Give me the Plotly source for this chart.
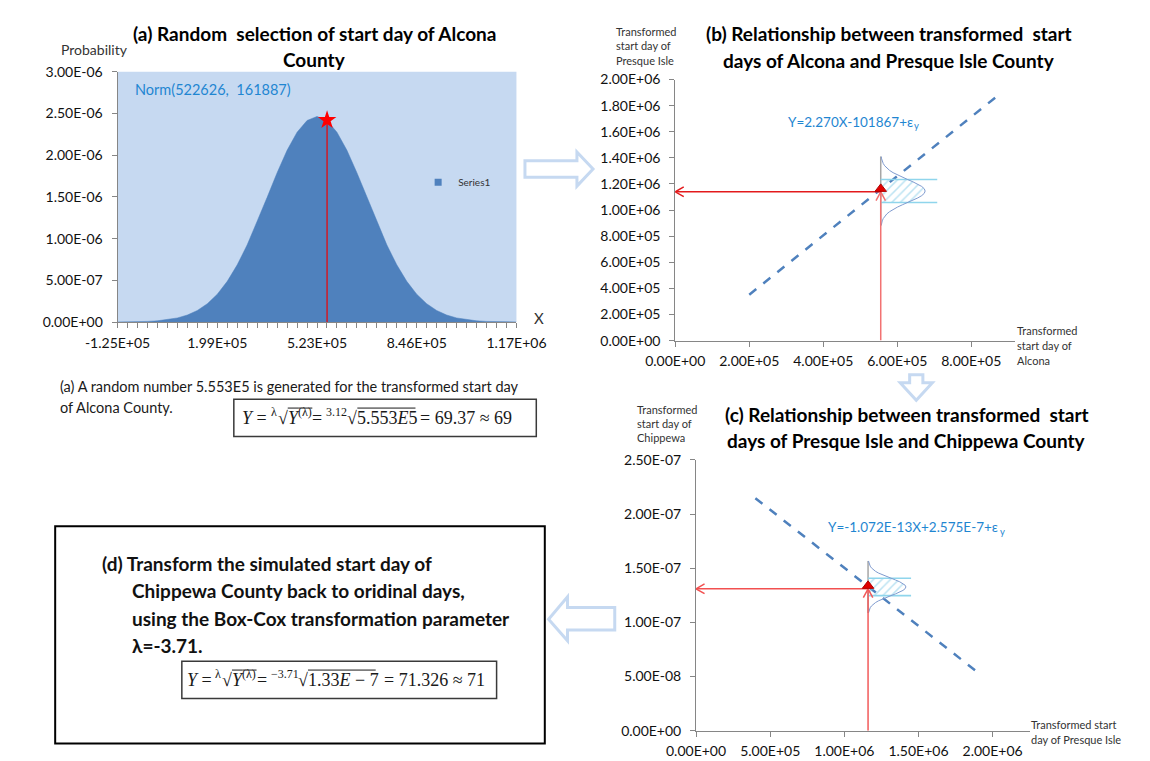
import plotly.graph_objects as go

W, H = 1150, 761

# ---------------- data ----------------
# (a) normal density of transformed Alcona start day, Norm(522626, 161887)
a_x = [-124922, -92545, -60167, -27790, 4588, 36965, 69343, 101720, 134097, 166475,
       198852, 231229, 263607, 295984, 328362, 360739, 393116, 425494, 457871, 490249,
       522626, 555003, 587381, 619758, 652136, 684513, 716890, 749268, 781645, 814023,
       846400, 878777, 911155, 943532, 975910, 1008287, 1040664, 1073042, 1105419, 1137797,
       1170174]
a_y = [0.0008e-6, 0.0018e-6, 0.0038e-6, 0.0076e-6, 0.0147e-6, 0.0274e-6, 0.0489e-6, 0.0839e-6,
       0.1383e-6, 0.2191e-6, 0.3335e-6, 0.4877e-6, 0.6852e-6, 0.9249e-6, 1.1995e-6, 1.4947e-6,
       1.7895e-6, 2.0584e-6, 2.2748e-6, 2.4155e-6, 2.4643e-6, 2.4155e-6, 2.2748e-6, 2.0584e-6,
       1.7895e-6, 1.4947e-6, 1.1995e-6, 0.9249e-6, 0.6852e-6, 0.4877e-6, 0.3335e-6, 0.2191e-6,
       0.1383e-6, 0.0839e-6, 0.0489e-6, 0.0274e-6, 0.0147e-6, 0.0076e-6, 0.0038e-6, 0.0018e-6,
       0.0008e-6]
a_xtick_labels = ["-1.25E+05", "1.99E+05", "5.23E+05", "8.46E+05", "1.17E+06"]
a_yticks = [0, 0.5e-6, 1.0e-6, 1.5e-6, 2.0e-6, 2.5e-6, 3.0e-6]
a_ytick_labels = ["0.00E+00", "5.00E-07", "1.00E-06", "1.50E-06", "2.00E-06", "2.50E-06", "3.00E-06"]
alcona_sim = 555300
alcona_sim_density = 2.42e-6

# (b) Alcona -> Presque Isle
b_line_x = [200000, 870000]
b_line_y = [352133, 1873033]
b_point_x = 555300
b_point_y = 1140000
b_xticks = [0, 200000, 400000, 600000, 800000]
b_xtick_labels = ["0.00E+00", "2.00E+05", "4.00E+05", "6.00E+05", "8.00E+05"]
b_yticks = [0, 200000, 400000, 600000, 800000, 1000000, 1200000, 1400000, 1600000, 1800000, 2000000]
b_ytick_labels = ["0.00E+00", "2.00E+05", "4.00E+05", "6.00E+05", "8.00E+05", "1.00E+06",
                  "1.20E+06", "1.40E+06", "1.60E+06", "1.80E+06", "2.00E+06"]

# (c) Presque Isle -> Chippewa
c_line_x = [400000, 1900000]
c_line_y = [2.1462e-7, 0.5382e-7]
c_point_x = 1160000
c_point_y = 1.31e-7
c_xticks = [0, 500000, 1000000, 1500000, 2000000]
c_xtick_labels = ["0.00E+00", "5.00E+05", "1.00E+06", "1.50E+06", "2.00E+06"]
c_yticks = [0, 0.5e-7, 1.0e-7, 1.5e-7, 2.0e-7, 2.5e-7]
c_ytick_labels = ["0.00E+00", "5.00E-08", "1.00E-07", "1.50E-07", "2.00E-07", "2.50E-07"]

# ---------------- layout geometry (pixels) ----------------
A_X, A_Y = (81, 503), (56, 312)
B_X, B_Y = (671, 1030), (64, 331)
C_X, C_Y = (693, 1046), (453, 730)
A_RX, A_RY = [a_x[0], a_x[-1]], [0, 3e-6]
B_RX, B_RY = [0, 917000], [0, 2000000]
C_RX, C_RY = [0, 2250000], [0, 2.5e-7]


def px(x):
    return x / W


def py(y):
    return 1 - y / H


FONT = "Lato"
TICKC = "#111111"
BLUE = "#4f81bd"
EQBLUE = "#1f86d1"

fig = go.Figure()

# ---------------- panel (a) ----------------
fig.add_trace(go.Scatter(x=a_x, y=a_y, mode="lines", fill="tozeroy", fillcolor=BLUE,
                         line=dict(color=BLUE, width=0.5), name="Series1", showlegend=False,
                         xaxis="x", yaxis="y", hoverinfo="skip"))
fig.add_trace(go.Scatter(x=[None], y=[None], mode="markers", name="Series1",
                         marker=dict(symbol="square", size=7, color=BLUE),
                         xaxis="x", yaxis="y", showlegend=True))
fig.add_trace(go.Scatter(x=[alcona_sim, alcona_sim], y=[0, alcona_sim_density], mode="lines",
                         line=dict(color="#f00000", width=1.2), showlegend=False,
                         xaxis="x", yaxis="y", hoverinfo="skip"))
fig.add_trace(go.Scatter(x=[alcona_sim], y=[alcona_sim_density], mode="markers",
                         marker=dict(symbol="star", size=14, color="#ff0000", line=dict(width=0)),
                         showlegend=False, xaxis="x", yaxis="y", hoverinfo="skip"))

# bell profile derived from panel (a) data (|z| <= 3)
mean_a = a_x[20]
sd_a = a_x[25] - a_x[20]
peak_a = max(a_y)
prof = [((a_x[i] - mean_a) / sd_a, a_y[i] / peak_a) for i in range(5, 36)]


def add_bell(xa, ya, base, center, sigma, width, ext):
    xs = [base + width * r for z, r in prof]
    ys = [center + z * sigma for z, r in prof]
    inner = [(base + width * r, center + z * sigma) for z, r in prof if abs(z) <= 1.0001]
    hx = [p[0] for p in inner] + [base, base, inner[0][0]]
    hy = [p[1] for p in inner] + [center + sigma, center - sigma, inner[0][1]]
    fig.add_trace(go.Scatter(x=hx, y=hy, mode="lines", fill="toself", line=dict(width=0),
                             fillcolor="rgba(255,255,255,0)",
                             fillpattern=dict(shape="/", fgcolor="#79c7e6", bgcolor="rgba(255,255,255,0)",
                                              size=6, solidity=0.25),
                             showlegend=False, xaxis=xa, yaxis=ya, hoverinfo="skip"))
    fig.add_trace(go.Scatter(x=[base, base], y=[center - 3 * sigma, center + 3 * sigma], mode="lines",
                             line=dict(color="#a6a6a6", width=1.5), showlegend=False,
                             xaxis=xa, yaxis=ya, hoverinfo="skip"))
    fig.add_trace(go.Scatter(x=[base, ext, None, base, ext],
                             y=[center + sigma, center + sigma, None, center - sigma, center - sigma],
                             mode="lines", line=dict(color="#8fd5ec", width=1.6), showlegend=False,
                             xaxis=xa, yaxis=ya, hoverinfo="skip"))
    fig.add_trace(go.Scatter(x=xs, y=ys, mode="lines", line=dict(color="#7f9bcf", width=1),
                             showlegend=False, xaxis=xa, yaxis=ya, hoverinfo="skip"))


def add_arrows(xa, ya, x0, y0, xr, yr, xdom, ydom, hcol, vcol):
    ux = (xr[1] - xr[0]) / (xdom[1] - xdom[0])
    uy = (yr[1] - yr[0]) / (ydom[1] - ydom[0])
    L, Wd = 9, 5
    fig.add_trace(go.Scatter(x=[x0, x0, None, x0 - Wd * ux, x0, x0 + Wd * ux],
                             y=[0, y0, None, y0 - L * uy, y0, y0 - L * uy],
                             mode="lines", line=dict(color=vcol, width=1.5), showlegend=False,
                             xaxis=xa, yaxis=ya, hoverinfo="skip"))
    fig.add_trace(go.Scatter(x=[x0, 0, None, L * ux, 0, L * ux],
                             y=[y0, y0, None, y0 + Wd * uy, y0, y0 - Wd * uy],
                             mode="lines", line=dict(color=hcol, width=1.5), showlegend=False,
                             xaxis=xa, yaxis=ya, hoverinfo="skip"))
    fig.add_trace(go.Scatter(x=[x0], y=[y0 + 3 * uy], mode="markers",
                             marker=dict(symbol="triangle-up", size=10, color="#e00000",
                                         line=dict(color="#b00000", width=1)),
                             showlegend=False, xaxis=xa, yaxis=ya, hoverinfo="skip"))


# ---------------- panel (b) ----------------
fig.add_trace(go.Scatter(x=b_line_x, y=b_line_y, mode="lines",
                         line=dict(color=BLUE, width=2.5, dash="dash"), showlegend=False,
                         xaxis="x2", yaxis="y2", hoverinfo="skip"))
add_bell("x2", "y2", b_point_x, 1146000, 88000, 120000, 708000)
add_arrows("x2", "y2", b_point_x, b_point_y, B_RX, B_RY, B_X, B_Y, "#e31a1c", "#f27272")

# ---------------- panel (c) ----------------
fig.add_trace(go.Scatter(x=c_line_x, y=c_line_y, mode="lines",
                         line=dict(color=BLUE, width=2.5, dash="dash"), showlegend=False,
                         xaxis="x3", yaxis="y3", hoverinfo="skip"))
add_bell("x3", "y3", c_point_x, 1.327e-7, 0.08e-7, 255000, 1450000)
add_arrows("x3", "y3", c_point_x, c_point_y, C_RX, C_RY, C_X, C_Y, "#f25050", "#f25a5a")


def xaxis_style(dom, rng, tickvals, ticktext, anchor):
    return dict(domain=[px(dom[0]), px(dom[1])], range=rng, anchor=anchor, showgrid=False,
                zeroline=False, showline=True, linecolor="#868686", linewidth=1,
                ticks="outside", ticklen=5, tickcolor="#868686", tickwidth=1,
                tickvals=tickvals, ticktext=ticktext, ticklabelstandoff=3,
                tickfont=dict(family=FONT, size=14, color=TICKC), fixedrange=True)


def yaxis_style(dom, rng, tickvals, ticktext, anchor):
    return dict(domain=[py(dom[1]), py(dom[0])], range=rng, anchor=anchor, showgrid=False,
                zeroline=False, showline=True, linecolor="#868686", linewidth=1,
                ticks="outside", ticklen=5, tickcolor="#868686", tickwidth=1,
                tickvals=tickvals, ticktext=ticktext, ticklabelstandoff=6,
                tickfont=dict(family=FONT, size=14, color=TICKC), fixedrange=True)


a_xtext = [a_xtick_labels[i // 10] if i % 10 == 0 else "" for i in range(len(a_x))]

layout = dict(
    width=W, height=H, margin=dict(l=0, r=0, t=0, b=0),
    paper_bgcolor="white", plot_bgcolor="rgba(0,0,0,0)",
    xaxis=xaxis_style(A_X, A_RX, a_x, a_xtext, "y"),
    yaxis=yaxis_style(A_Y, A_RY, a_yticks, a_ytick_labels, "x"),
    xaxis2=xaxis_style(B_X, B_RX, b_xticks, b_xtick_labels, "y2"),
    yaxis2=yaxis_style(B_Y, B_RY, b_yticks, b_ytick_labels, "x2"),
    xaxis3=xaxis_style(C_X, C_RX, c_xticks, c_xtick_labels, "y3"),
    yaxis3=yaxis_style(C_Y, C_RY, c_yticks, c_ytick_labels, "x3"),
    legend=dict(x=px(399), y=py(169), xanchor="left", yanchor="middle",
                bgcolor="rgba(0,0,0,0)", font=dict(family=FONT, size=10, color="#333333"),
                itemwidth=30),
    showlegend=True,
)
fig.update_layout(**layout)

shapes = []
shapes.append(dict(type="rect", xref="x domain", yref="y domain", x0=0, x1=1, y0=0, y1=1,
                   fillcolor="#c6d9f1", line=dict(width=0), layer="below"))


def poly(points):
    return "M " + " L ".join(f"{px(x):.5f},{py(y):.5f}" for x, y in points) + " Z"


ARROWC = "#c6d9f1"
shapes.append(dict(type="path", xref="paper", yref="paper", fillcolor="white",
                   line=dict(color=ARROWC, width=3),
                   path=poly([(512, 147), (567, 147), (567, 138), (584, 155.5), (567, 173), (567, 164), (512, 164)])))
shapes.append(dict(type="path", xref="paper", yref="paper", fillcolor="white",
                   line=dict(color=ARROWC, width=3),
                   path=poly([(919, 366), (933, 366), (933, 374), (943, 374), (926, 392), (909, 374), (919, 374)])))
shapes.append(dict(type="path", xref="paper", yref="paper", fillcolor="white",
                   line=dict(color=ARROWC, width=3),
                   path=poly([(607, 604), (557, 604), (557, 593), (537, 616), (557, 638), (557, 627), (607, 627)])))
shapes.append(dict(type="rect", xref="paper", yref="paper", x0=px(204), x1=px(524), y0=py(429), y1=py(391),
                   line=dict(color="#3a3a3a", width=1.5)))
shapes.append(dict(type="rect", xref="paper", yref="paper", x0=px(15), x1=px(533), y0=py(743), y1=py(521),
                   line=dict(color="#000000", width=2)))
shapes.append(dict(type="rect", xref="paper", yref="paper", x0=px(149), x1=px(482), y0=py(697), y1=py(659),
                   line=dict(color="#3a3a3a", width=1.5)))

ann = []


def text(x, y, s, size=13, color="#222222", bold=False, xanchor="left", family=FONT):
    if bold:
        s = "<b>" + s + "</b>"
    ann.append(dict(x=px(x), y=py(y), xref="paper", yref="paper", text=s, showarrow=False,
                    xanchor=xanchor, yanchor="middle", align="left",
                    font=dict(family=family, size=size, color=color)))


TS = 19
text(289, 17, "(a) Random  selection of start day of Alcona", TS, "#000", True, "center")
text(289, 43, "County", TS, "#000", True, "center")
text(897, 17, "(b) Relationship between transformed  start", TS, "#000", True, "center")
text(897, 44, "days of Alcona and Presque Isle County", TS, "#000", True, "center")
text(916, 407, "(c) Relationship between transformed  start", TS, "#000", True, "center")
text(916, 433, "days of Presque Isle and Chippewa County", TS, "#000", True, "center")

text(19, 33, "Probability", 14, "#333333")
text(519, 308, "X", 15, "#333333")
text(606, 15, "Transformed", 11, "#333333")
text(606, 29.5, "start day of", 11, "#333333")
text(606, 44, "Presque Isle", 11, "#333333")
text(1030, 321, "Transformed", 11, "#333333")
text(1030, 336, "start day of", 11, "#333333")
text(1030, 351, "Alcona", 11, "#333333")
text(628, 401, "Transformed", 11, "#333333")
text(628, 415.5, "start day of", 11, "#333333")
text(628, 430, "Chippewa", 11, "#333333")
text(1045, 724, "Transformed start", 11, "#333333")
text(1045, 739, "day of Presque Isle", 11, "#333333")

text(97, 74, "Norm(522626,\u00a0\u00a0161887)", 14.5, EQBLUE)

# regression equations: main text right-anchored, subscript placed after it
text(925, 107, "Y=2.270X-101867+ε", 13.5, EQBLUE, xanchor="right")
text(922, 111, "y", 9.5, EQBLUE)
text(1015, 522, "Y=-1.072E-13X+2.575E-7+ε", 13.5, EQBLUE, xanchor="right")
text(1012, 526, "y", 9.5, EQBLUE)

text(18, 378, "(a) A random number 5.553E5 is generated for the transformed start day", 14.5, "#1a1a1a")
text(18, 399, "of Alcona County.", 14.5, "#1a1a1a")

# Box-Cox back-transform formulas, built piece by piece (Times-metric widths, per 1000 em)
FM, FSUP = 18, 12
SERIF = "Liberation Serif"


def formula(x0, yc, parts):
    cur = x0
    for html, units, kind, over, gap in parts:
        size = FM if kind == "m" else FSUP
        yy = yc if kind == "m" else yc - 6
        text(cur, yy, html, size, "#1a1a1a", family=SERIF)
        w = units * size / 1000.0
        if over:
            shapes.append(dict(type="line", xref="paper", yref="paper",
                               x0=px(cur + 2), x1=px(cur + 3 + w), y0=py(yc - 10), y1=py(yc - 10),
                               line=dict(color="#1a1a1a", width=1)))
        cur += w + 1 + gap * FM / 1000.0


formula(211, 410, [
    ("<i>Y</i> =", 1370, "m", False, 250),
    ("λ", 500, "s", False, 0),
    ("√", 549, "m", False, 0),
    ("<i>Y</i>", 556, "m", True, 0),
    ("(λ)", 1166, "s", True, 0),
    ("=", 564, "m", False, 200),
    ("3.12", 1750, "s", False, 0),
    ("√", 549, "m", False, 0),
    ("5.553<i>E</i>5", 3361, "m", True, 250),
    ("= 69.37 ≈ 69", 5113, "m", False, 0),
])

DS = 19
text(62, 559, "(d) Transform the simulated start day of", DS, "#111111", True)
text(94, 587, "Chippewa County back to oridinal days,", DS, "#111111", True)
text(94, 615, "using the Box-Cox transformation parameter", DS, "#111111", True)
text(94, 643, "λ=-3.71.", DS, "#111111", True)

formula(152, 678, [
    ("<i>Y</i> =", 1370, "m", False, 250),
    ("λ", 500, "s", False, 0),
    ("√", 549, "m", False, 0),
    ("<i>Y</i>", 556, "m", True, 0),
    ("(λ)", 1166, "s", True, 0),
    ("=", 564, "m", False, 200),
    ("−3.71", 2314, "s", False, 0),
    ("√", 549, "m", False, 0),
    ("1.33<i>E</i> − 7", 3925, "m", True, 480),
    ("= 71.326 ≈ 71", 5613, "m", False, 0),
])

fig.update_layout(shapes=shapes, annotations=ann)
fig.write_html("out.html")
